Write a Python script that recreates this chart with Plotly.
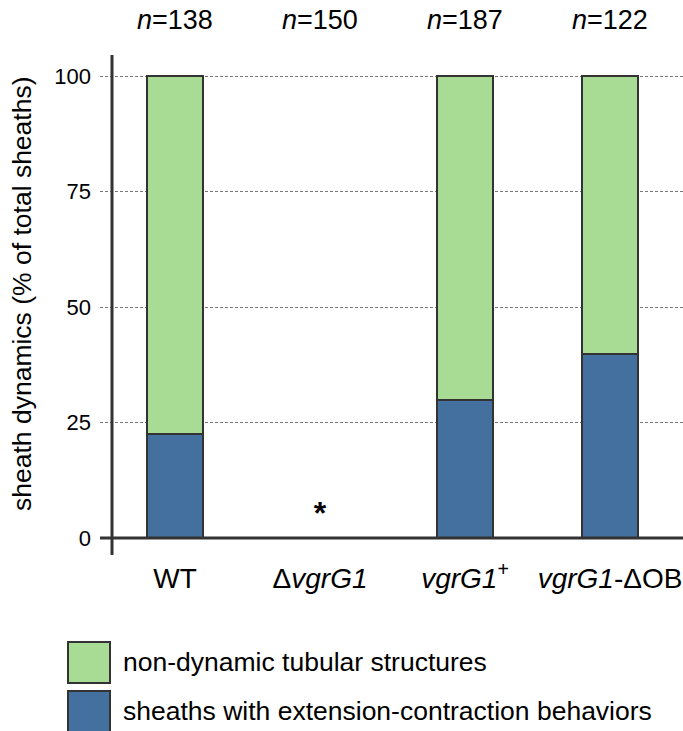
import plotly.graph_objects as go

categories = ["WT", "ΔvgrG1", "vgrG1+", "vgrG1-ΔOB"]
tick_labels = ["WT", "Δ<i>vgrG1</i>", "<i>vgrG1</i><sup>+</sup>", "<i>vgrG1</i>-ΔOB"]
n_values = [138, 150, 187, 122]
dynamic_pct = [22.5, None, 29.9, 39.8]          # sheaths with extension-contraction behaviors
nondynamic_pct = [77.5, None, 70.1, 60.2]       # non-dynamic tubular structures
star_category = 1
star_value = 4.8
y_ticks = [0, 25, 50, 75, 100]

GREEN = "#A8DB94"
BLUE = "#44709F"
EDGE = "#333333"
FONT = "Liberation Sans, Arial, Helvetica, sans-serif"

W, H = 683, 731
L, R, T, B = 100, 0, 55, 176
PW = W - L - R
PH = H - T - B


def px_x(px):
    return (px - L) / PW


def px_y(py):
    return (H - B - py) / PH


xpos = list(range(len(categories)))

fig = go.Figure()
fig.add_trace(go.Bar(x=xpos, y=dynamic_pct, name="sheaths with extension-contraction behaviors",
                     marker=dict(color=BLUE, line=dict(color=EDGE, width=2)), width=0.386))
fig.add_trace(go.Bar(x=xpos, y=nondynamic_pct, name="non-dynamic tubular structures",
                     marker=dict(color=GREEN, line=dict(color=EDGE, width=2)), width=0.386))
fig.add_trace(go.Scatter(x=[star_category], y=[star_value], mode="text", text=["<b>*</b>"],
                         textfont=dict(size=32, color="black", family=FONT), showlegend=False))

fig.update_layout(
    barmode="stack",
    width=W, height=H,
    margin=dict(l=L, r=R, t=T, b=B, pad=0),
    paper_bgcolor="white", plot_bgcolor="white",
    showlegend=False,
    font=dict(family=FONT, size=20, color="black"),
    xaxis=dict(range=[-0.517, 3.503], tickmode="array", tickvals=xpos, ticktext=tick_labels,
               showgrid=False, zeroline=False, showline=False, ticks="",
               tickfont=dict(size=28), ticklabelstandoff=4, ticklabeloverflow="allow"),
    yaxis=dict(range=[-3.68, 104.55], tickmode="array", tickvals=y_ticks,
               showgrid=True, gridcolor="#777777", griddash="3px,2px", gridwidth=1,
               zeroline=False, showline=False, ticks="", tickfont=dict(size=22),
               ticklabelstandoff=8),
)

# y axis line and baseline
fig.add_shape(type="line", xref="paper", yref="paper", x0=px_x(112), x1=px_x(112),
              y0=0, y1=1, line=dict(color=EDGE, width=3), layer="above")
fig.add_shape(type="line", xref="paper", yref="y", x0=0, x1=1, y0=0, y1=0,
              line=dict(color=EDGE, width=3), layer="above")

# y axis title
fig.add_annotation(text="sheath dynamics (% of total sheaths)", xref="paper", yref="paper",
                   x=px_x(22), y=px_y(294), textangle=-90, showarrow=False,
                   font=dict(size=26.5), xanchor="center", yanchor="middle")

# n labels
for xi, n in zip(xpos, n_values):
    fig.add_annotation(text=f"<i>n</i>={n}", x=xi, xref="x", yref="paper", y=px_y(20),
                       showarrow=False, font=dict(size=27), xanchor="center", yanchor="middle")

# legend
legend_items = [(GREEN, "non-dynamic tubular structures", 642),
                (BLUE, "sheaths with extension-contraction behaviors", 691)]
for color, label, top in legend_items:
    fig.add_shape(type="rect", xref="paper", yref="paper", x0=px_x(68), x1=px_x(110),
                  y0=px_y(top), y1=px_y(top + 41), fillcolor=color,
                  line=dict(color=EDGE, width=2))
    fig.add_annotation(text=label, xref="paper", yref="paper", x=px_x(121), y=px_y(top + 20),
                       showarrow=False, font=dict(size=26.5), xanchor="left", yanchor="middle")

fig.write_html("out.html", config={"displayModeBar": False},
               post_script="document.body.style.margin='0px';document.body.style.overflow='hidden';")
